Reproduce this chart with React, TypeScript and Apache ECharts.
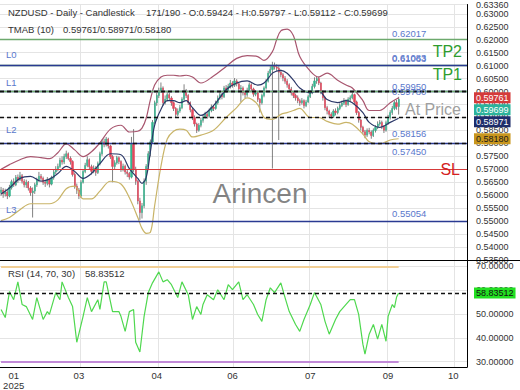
import React, { useEffect, useRef } from "react";
import * as echarts from "echarts";

const FONT = '"Liberation Sans", Arial, Helvetica, sans-serif';

// ---- header info
const symbolName = "NZDUSD";
const periodName = "Daily";
const chartKind = "Candlestick";
const barNo = 171;
const barCount = 190;

// ---- candles (daily)
const opens = [
  0.5610,0.5620,0.5605,0.5612,0.5597,0.5630,0.5652,0.5640,0.5669,0.5660,
  0.5675,0.5654,0.5640,0.5650,0.5628,0.5610,0.5616,0.5640,0.5660,0.5673,
  0.5665,0.5650,0.5646,0.5660,0.5643,0.5668,0.5690,0.5700,0.5711,0.5735,
  0.5728,0.5749,0.5760,0.5742,0.5730,0.5680,0.5635,0.5620,0.5597,0.5650,
  0.5692,0.5715,0.5737,0.5710,0.5692,0.5705,0.5688,0.5722,0.5760,0.5806,
  0.5795,0.5817,0.5790,0.5749,0.5711,0.5725,0.5745,0.5730,0.5700,0.5712,
  0.5690,0.5684,0.5670,0.5800,0.5700,0.5654,0.5578,0.5533,0.5559,0.5654,
  0.5711,0.5760,0.5806,0.5881,0.5957,0.5985,0.6003,0.6014,0.5957,0.5970,
  0.5988,0.5975,0.5957,0.5935,0.5912,0.5925,0.5938,0.5970,0.6003,0.5985,
  0.5957,0.5930,0.5900,0.5875,0.5851,0.5870,0.5889,0.5900,0.5912,0.5905,
  0.5927,0.5940,0.5935,0.5957,0.5975,0.5988,0.5980,0.6014,0.6005,0.6020,
  0.6033,0.6025,0.6041,0.6030,0.6010,0.6014,0.5995,0.5988,0.6005,0.6026,
  0.6010,0.5990,0.5995,0.5970,0.5957,0.5985,0.6014,0.6040,0.6071,0.6085,
  0.6101,0.6095,0.6090,0.6075,0.6065,0.6052,0.6040,0.6026,0.6010,0.5995,
  0.5985,0.5976,0.5965,0.5957,0.5965,0.5946,0.5960,0.5980,0.5995,0.6020,
  0.6041,0.6050,0.6033,0.6000,0.5976,0.5938,0.5925,0.5912,0.5905,0.5925,
  0.5919,0.5935,0.5946,0.5955,0.5965,0.5950,0.5970,0.5976,0.5988,0.5960,
  0.5919,0.5890,0.5862,0.5845,0.5832,0.5850,0.5844,0.5830,0.5850,0.5862,
  0.5875,0.5881,0.5865,0.5851,0.5880,0.5900,0.5919,0.5935,0.5957,0.59424,
];
const closes = [
  0.5620,0.5605,0.5612,0.5597,0.5630,0.5652,0.5640,0.5669,0.5660,0.5675,
  0.5654,0.5640,0.5650,0.5628,0.5610,0.5616,0.5640,0.5660,0.5673,0.5665,
  0.5650,0.5646,0.5660,0.5643,0.5668,0.5690,0.5700,0.5711,0.5735,0.5728,
  0.5749,0.5760,0.5742,0.5730,0.5680,0.5635,0.5620,0.5597,0.5650,0.5692,
  0.5715,0.5737,0.5710,0.5692,0.5705,0.5688,0.5722,0.5760,0.5806,0.5795,
  0.5817,0.5790,0.5749,0.5711,0.5725,0.5745,0.5730,0.5700,0.5712,0.5690,
  0.5684,0.5670,0.5800,0.5700,0.5654,0.5578,0.5533,0.5559,0.5654,0.5711,
  0.5760,0.5806,0.5881,0.5957,0.5985,0.6003,0.6014,0.5957,0.5970,0.5988,
  0.5975,0.5957,0.5935,0.5912,0.5925,0.5938,0.5970,0.6003,0.5985,0.5957,
  0.5930,0.5900,0.5875,0.5851,0.5870,0.5889,0.5900,0.5912,0.5905,0.5927,
  0.5940,0.5935,0.5957,0.5975,0.5988,0.5980,0.6014,0.6005,0.6020,0.6033,
  0.6025,0.6041,0.6030,0.6010,0.6014,0.5995,0.5988,0.6005,0.6026,0.6010,
  0.5990,0.5995,0.5970,0.5957,0.5985,0.6014,0.6040,0.6071,0.6085,0.6101,
  0.6095,0.6090,0.6075,0.6065,0.6052,0.6040,0.6026,0.6010,0.5995,0.5985,
  0.5976,0.5965,0.5957,0.5965,0.5946,0.5960,0.5980,0.5995,0.6020,0.6041,
  0.6050,0.6033,0.6000,0.5976,0.5938,0.5925,0.5912,0.5905,0.5925,0.5919,
  0.5935,0.5946,0.5955,0.5965,0.5950,0.5970,0.5976,0.5988,0.5960,0.5919,
  0.5890,0.5862,0.5845,0.5832,0.5850,0.5844,0.5830,0.5850,0.5862,0.5875,
  0.5881,0.5865,0.5851,0.5880,0.5900,0.5919,0.5935,0.5957,0.59424,0.59699,
];
const highs = [
  0.5632,0.5628,0.5625,0.5620,0.5640,0.5660,0.5665,0.5678,0.5680,0.5690,
  0.5682,0.5662,0.5660,0.5655,0.5635,0.5630,0.5648,0.5668,0.5690,0.5682,
  0.5672,0.5660,0.5670,0.5665,0.5675,0.5698,0.5712,0.5722,0.5745,0.5750,
  0.5760,0.5772,0.5765,0.5750,0.5735,0.5688,0.5645,0.5628,0.5658,0.5700,
  0.5725,0.5750,0.5742,0.5718,0.5715,0.5712,0.5730,0.5768,0.5815,0.5818,
  0.5825,0.5822,0.5795,0.5755,0.5735,0.5752,0.5750,0.5735,0.5722,0.5718,
  0.5700,0.5690,0.5825,0.5855,0.5710,0.5660,0.5590,0.5570,0.5665,0.5720,
  0.5770,0.5815,0.5890,0.5965,0.5995,0.6015,0.6035,0.6020,0.5985,0.6000,
  0.5995,0.5982,0.5962,0.5940,0.5935,0.5948,0.5978,0.6028,0.6010,0.5990,
  0.5962,0.5938,0.5908,0.5880,0.5878,0.5898,0.5910,0.5922,0.5920,0.5935,
  0.5950,0.5948,0.5965,0.5985,0.5998,0.5995,0.6022,0.6025,0.6030,0.6045,
  0.6040,0.6052,0.6048,0.6035,0.6025,0.6020,0.6002,0.6015,0.6035,0.6032,
  0.6015,0.6005,0.6000,0.5975,0.5992,0.6020,0.6048,0.6080,0.6098,0.6115,
  0.6112,0.6105,0.6098,0.6085,0.6072,0.6060,0.6048,0.6032,0.6018,0.6002,
  0.5992,0.5985,0.5972,0.5975,0.5970,0.5968,0.5988,0.6005,0.6030,0.6055,
  0.6060,0.6058,0.6038,0.6005,0.5980,0.5945,0.5930,0.5920,0.5932,0.5935,
  0.5942,0.5955,0.5965,0.5975,0.5970,0.5978,0.5985,0.5998,0.5992,0.5965,
  0.5925,0.5895,0.5868,0.5852,0.5858,0.5860,0.5850,0.5858,0.5870,0.5885,
  0.5890,0.5888,0.5870,0.5888,0.5910,0.5928,0.5945,0.5965,0.5968,0.59797,
];
const lows = [
  0.5598,0.5590,0.5595,0.5585,0.5592,0.5622,0.5632,0.5635,0.5648,0.5655,
  0.5645,0.5630,0.5628,0.5618,0.5598,0.5514,0.5605,0.5632,0.5652,0.5655,
  0.5640,0.5632,0.5638,0.5630,0.5638,0.5660,0.5682,0.5692,0.5705,0.5718,
  0.5720,0.5740,0.5735,0.5718,0.5672,0.5625,0.5605,0.5585,0.5590,0.5645,
  0.5685,0.5708,0.5700,0.5680,0.5685,0.5675,0.5682,0.5715,0.5752,0.5785,
  0.5788,0.5780,0.5740,0.5650,0.5700,0.5718,0.5720,0.5690,0.5692,0.5680,
  0.5670,0.5660,0.5665,0.5690,0.5640,0.5565,0.5505,0.5510,0.5550,0.5640,
  0.5700,0.5750,0.5800,0.5875,0.5945,0.5975,0.5995,0.5945,0.5950,0.5962,
  0.5965,0.5945,0.5925,0.5900,0.5905,0.5918,0.5932,0.5965,0.5975,0.5948,
  0.5920,0.5890,0.5865,0.5840,0.5845,0.5862,0.5880,0.5895,0.5895,0.5900,
  0.5920,0.5925,0.5930,0.5950,0.5968,0.5970,0.5975,0.5995,0.5998,0.6012,
  0.6015,0.6018,0.6020,0.6000,0.5960,0.5985,0.5975,0.5980,0.5998,0.6000,
  0.5980,0.5982,0.5960,0.5919,0.5950,0.5978,0.6008,0.6035,0.6062,0.5703,
  0.6085,0.6080,0.5813,0.6055,0.6040,0.6030,0.6015,0.5998,0.5985,0.5975,
  0.5965,0.5955,0.5945,0.5950,0.5935,0.5940,0.5955,0.5975,0.5990,0.6012,
  0.6030,0.6025,0.5990,0.5965,0.5928,0.5912,0.5900,0.5895,0.5898,0.5908,
  0.5912,0.5928,0.5940,0.5948,0.5940,0.5945,0.5962,0.5970,0.5952,0.5910,
  0.5880,0.5850,0.5835,0.5820,0.5825,0.5835,0.5818,0.5825,0.5842,0.5855,
  0.5868,0.5855,0.5840,0.5845,0.5872,0.5892,0.5910,0.5928,0.5930,0.59112,
];

// ---- TMAB (10) bands, read at these bar indices
const bandIdx = [0,4,9,14,19,23,27,31,35,39,43,47,52,57,61,65,67,69,71,73,76,79,82,85,88,91,95,101,107,112,117,122,125,129,131,133,136,139,142,147,151,155,160,164,167,172,175,180,185,189];
const upperBand = [0.5700,0.5718,0.5737,0.5749,0.5745,0.5741,0.5764,0.5798,0.5775,0.5749,0.5768,0.5802,0.5855,0.5870,0.5844,0.5847,0.5859,0.5897,0.5969,0.6025,0.6056,0.6063,0.6063,0.6060,0.6063,0.6056,0.6033,0.6060,0.6097,0.6128,0.6139,0.6135,0.6120,0.6154,0.6200,0.6234,0.6241,0.6215,0.6135,0.6079,0.6056,0.6071,0.6044,0.6025,0.6014,0.5965,0.5927,0.5927,0.5957,0.59761];
const middleBand = [0.5605,0.5628,0.5665,0.5673,0.5654,0.5662,0.5684,0.5711,0.5692,0.5665,0.5684,0.5722,0.5760,0.5756,0.5703,0.5665,0.5646,0.5669,0.5768,0.5870,0.5931,0.5965,0.5965,0.5957,0.5965,0.5938,0.5908,0.5946,0.6007,0.6033,0.6041,0.6025,0.6033,0.6071,0.6079,0.6082,0.6071,0.6044,0.6014,0.5995,0.6003,0.5969,0.5957,0.5965,0.5957,0.5919,0.5881,0.5862,0.5881,0.58971];
const lowerBand = [0.5502,0.5514,0.5544,0.5567,0.5567,0.5567,0.5582,0.5625,0.5635,0.5586,0.5586,0.5616,0.5654,0.5643,0.5590,0.5514,0.5472,0.5453,0.5457,0.5559,0.5711,0.5817,0.5847,0.5855,0.5851,0.5825,0.5832,0.5851,0.5900,0.5938,0.5976,0.5950,0.5900,0.5893,0.5900,0.5912,0.5919,0.5927,0.5935,0.5900,0.5900,0.5885,0.5874,0.5881,0.5874,0.5836,0.5806,0.5798,0.5813,0.58180];

// ---- RSI (14, 70, 30), read at these bar indices
const rsiIdx = [0,2,4,6,8,10,12,15,17,20,22,23,26,28,29,32,34,36,39,41,43,46,47,49,50,53,56,57,59,61,63,64,66,68,70,72,75,77,79,81,84,86,89,91,93,95,96,98,101,103,106,108,110,113,115,117,120,122,124,126,128,130,133,135,137,140,142,144,147,149,152,154,156,159,161,164,166,168,170,172,173,175,177,179,181,183,184,186,187,188,189];
const rsiVals = [51.9,48.5,59.4,56.0,63.5,54.0,53.1,47.7,56.9,47.7,51.0,49.8,59.0,56.0,63.5,56.9,53.1,38.1,49.0,56.9,51.0,56.0,51.9,63.5,63.5,51.0,51.0,49.0,42.7,51.0,51.9,38.1,34.0,49.0,59.0,63.1,67.7,63.5,64.4,62.3,56.9,63.5,58.1,47.7,53.1,49.8,54.0,58.1,56.0,60.2,56.0,62.3,60.2,63.5,56.0,58.1,54.0,49.8,46.9,56.0,61.0,59.0,63.1,56.9,51.0,45.6,42.7,47.7,54.0,59.0,54.0,46.9,41.5,47.7,51.0,54.0,56.0,56.0,49.8,37.3,33.1,41.5,45.6,39.4,45.6,38.5,49.0,54.0,52.7,57.0,58.83512];
const rsiUpper = 70;
const rsiLower = 30;

// ---- horizontal levels
const levelValues = [0.62017, 0.61083, 0.61063, 0.59950, 0.59780, 0.58156, 0.57450, 0.55054];
const levelTags = ["", "TP2", "L0", "L1", "TP1", "L2", "SL", "L3"];

// ---- x axis slots and month ticks
const slotCount = 222;
const tickIdx = [6, 37, 74, 110, 147, 184, 215];
const tickText = ["01\n2025", "03", "04", "06", "07", "09", "10"];
const gridLineIdx = [38, 75, 111, 147, 184, 216];

const priceMin = 0.535;
const priceMax = 0.6336;
const priceStep = 0.005;
const rsiMin = 27.7;
const rsiMax = 72.7;

export default function App() {
  const ref = useRef<HTMLDivElement>(null);

  useEffect(() => {
    const el = ref.current;
    if (!el) return;
    const chart = echarts.init(el, null, { renderer: "svg" });
    const last = closes.length - 1;
    const f5 = (v: number) => v.toFixed(5);
    const cats = Array.from({ length: slotCount }, (_, i) => String(i));

    const NAVY = "#2a3a92";
    const GREEN_LINE = "#6da96d";
    const RED = "#d63a3a";
    const BLUE_TXT = "#5a78cc";

    const xAxisBase = (gi: number) => ({
      type: "category",
      gridIndex: gi,
      data: cats,
      boundaryGap: true,
      axisTick: { show: false },
      axisLine: { show: gi === 1, lineStyle: { color: "#000", width: 1 } },
      axisLabel: {
        show: gi === 1,
        interval: (i: number) => tickIdx.includes(i),
        formatter: (_v: string, i: number) => {
          const p = tickIdx.indexOf(i);
          return p >= 0 ? tickText[p] : "";
        },
        fontSize: 9.5,
        color: "#333",
        margin: 3,
        lineHeight: 10,
        fontFamily: FONT,
      },
      splitLine: {
        show: true,
        interval: (i: number) => gridLineIdx.includes(i),
        lineStyle: { color: "#e4e4e4", width: 1 },
      },
    });

    const levelMarks: any[] = levelValues.map((v, k) => {
      const tag = levelTags[k];
      const isL = tag.startsWith("L");
      const isSL = tag === "SL";
      const color = isL ? NAVY : isSL ? RED : GREEN_LINE;
      return {
        yAxis: v,
        lineStyle: { color, width: isSL ? 1.2 : 1.4, type: "solid" },
        label: { show: false },
      };
    });

    const dashStyle = { color: "#111", width: 1.3, type: [4, 3] };
    const currentMarks = [
      upperBand[upperBand.length - 1],
      closes[last],
      middleBand[middleBand.length - 1],
      lowerBand[lowerBand.length - 1],
    ].map((v) => ({ yAxis: v, lineStyle: dashStyle, label: { show: false } }));

    const lineSeries = (data: number[], color: string) => ({
      type: "line",
      xAxisIndex: 0,
      yAxisIndex: 0,
      data: bandIdx.map((x, k) => [x, data[k]]),
      smooth: 0.35,
      symbol: "none",
      lineStyle: { color, width: 1.2 },
      z: 4,
    });

    const option: any = {
      animation: false,
      backgroundColor: "#ffffff",
      textStyle: { fontFamily: FONT },
      grid: [
        { left: 0, right: 53, top: 0, height: 260, containLabel: false },
        { left: 0, right: 53, top: 260, height: 108, containLabel: false },
      ],
      xAxis: [xAxisBase(0), xAxisBase(1)],
      yAxis: [
        {
          type: "value",
          gridIndex: 0,
          position: "right",
          min: priceMin,
          max: priceMax,
          interval: priceStep,
          axisLine: { show: true, lineStyle: { color: "#000", width: 1 } },
          axisTick: { show: false },
          axisLabel: {
            formatter: (v: number) => f5(v),
            fontSize: 9,
            color: "#333",
            margin: 9,
            fontFamily: FONT,
            alignMinLabel: "bottom",
            alignMaxLabel: "top",
          },
          splitLine: { show: true, lineStyle: { color: "#e4e4e4", width: 1 } },
        },
        {
          type: "value",
          gridIndex: 1,
          position: "right",
          min: rsiMin,
          max: rsiMax,
          splitNumber: 5,
          axisLine: { show: true, lineStyle: { color: "#000", width: 1 } },
          axisTick: { show: false },
          axisLabel: {
            formatter: (v: number) => f5(v),
            fontSize: 9,
            color: "#333",
            margin: 9,
            fontFamily: FONT,
            showMinLabel: false,
            showMaxLabel: false,
          },
          splitLine: { show: true, lineStyle: { color: "#e4e4e4", width: 1 } },
        },
      ],
      series: [
        {
          type: "custom",
          name: "wicks",
          xAxisIndex: 0,
          yAxisIndex: 0,
          data: lows.map((l, i) => [i, l, highs[i]]),
          encode: { x: 0, y: [1, 2] },
          renderItem: (_p: any, api: any) => {
            const lo = api.coord([api.value(0), api.value(1)]);
            const hi = api.coord([api.value(0), api.value(2)]);
            return {
              type: "line",
              shape: { x1: lo[0], y1: lo[1], x2: hi[0], y2: hi[1] },
              style: { stroke: "#4a4a4a", lineWidth: 0.7 },
            };
          },
          z: 2,
        },
        {
          type: "candlestick",
          name: "bodies",
          xAxisIndex: 0,
          yAxisIndex: 0,
          barWidth: "80%",
          data: opens.map((o, i) => [o, closes[i], Math.min(o, closes[i]), Math.max(o, closes[i])]),
          itemStyle: {
            color: "#36b58f",
            color0: "#e5475c",
            borderColor: "#36b58f",
            borderColor0: "#e5475c",
            borderWidth: 0.5,
          },
          z: 3,
        },
        {
          ...lineSeries(upperBand, "#a8566f"),
          markLine: { symbol: ["none", "none"], silent: true, animation: false, data: levelMarks },
        },
        {
          ...lineSeries(middleBand, "#2b3868"),
          markLine: { symbol: ["none", "none"], silent: true, animation: false, data: currentMarks },
        },
        lineSeries(lowerBand, "#c9b468"),
        {
          type: "line",
          name: "RSI",
          xAxisIndex: 1,
          yAxisIndex: 1,
          data: rsiIdx.map((x, k) => [x, rsiVals[k]]),
          symbol: "none",
          lineStyle: { color: "#4fd84f", width: 1.2 },
          z: 4,
          markLine: {
            symbol: ["none", "none"],
            silent: true,
            animation: false,
            label: { show: false },
            data: [
              [
                { coord: [cats[0], rsiUpper], lineStyle: { color: "#f2cf95", width: 2, type: "solid" } },
                { coord: [cats[last], rsiUpper] },
              ],
              [
                { coord: [cats[0], rsiLower], lineStyle: { color: "#c28ad8", width: 2, type: "solid" } },
                { coord: [cats[last], rsiLower] },
              ],
              { yAxis: rsiVals[rsiVals.length - 1], lineStyle: dashStyle },
            ],
          },
        },
      ],
    };

    chart.setOption(option);

    const txt = (text: string, x: number, y: number, size: number, fill: string, extra: any = {}) => ({
      type: "text",
      x,
      y,
      z: 50,
      style: { text, fill, font: `${size}px ${FONT}`, verticalAlign: "middle", align: "left", ...extra },
    });
    const py = (v: number) => chart.convertToPixel({ yAxisIndex: 0 } as any, v) as unknown as number;

    const tagDefs = [
      { v: upperBand[upperBand.length - 1], bg: "#d43b3b", fg: "#ffffff" },
      { v: closes[last], bg: "#2bb39b", fg: "#ffffff" },
      { v: middleBand[middleBand.length - 1], bg: "#1e2d6b", fg: "#ffffff" },
      { v: lowerBand[lowerBand.length - 1], bg: "#c8961d", fg: "#1a1a1a" },
    ];
    const placed = tagDefs.map((t) => ({ ...t, y: py(t.v) })).sort((a, b) => a.y - b.y);
    for (let k = 1; k < placed.length; k++) {
      if (placed[k].y < placed[k - 1].y + 12) placed[k].y = placed[k - 1].y + 12;
    }
    const rsiLast = rsiVals[rsiVals.length - 1];
    const rsiY = chart.convertToPixel({ yAxisIndex: 1 } as any, rsiLast) as unknown as number;
    const closeY = py(closes[last]);

    const tagEls: any[] = placed.map((t) =>
      txt(f5(t.v), 474, t.y, 9, t.fg, { backgroundColor: t.bg, padding: [1, 2, 1, 2] })
    );
    tagEls.push(
      txt(f5(rsiLast), 474, rsiY, 9, "#111", { backgroundColor: "#22e022", padding: [1, 2, 1, 2] })
    );

    // level value labels + names (L0..L3 at left, TP/SL at right)
    const bigOffset: Record<string, number> = { TP2: -12, TP1: -23, SL: 12 };
    const nameEls: any[] = [];
    levelValues.forEach((v, k) => {
      const tag = levelTags[k];
      const y = py(v);
      nameEls.push(txt(f5(v), 392, y - 6, 9.5, BLUE_TXT));
      if (!tag) return;
      if (tag.startsWith("L")) {
        nameEls.push(txt(tag, 6, y - 10, 9.5, BLUE_TXT));
      } else {
        const isSL = tag === "SL";
        nameEls.push(
          txt(tag, isSL ? 460 : 462, y + bigOffset[tag], 16, isSL ? "#d42020" : "#2e9c2e", { align: "right" })
        );
      }
    });

    chart.setOption({
      graphic: [
        {
          type: "line",
          z: 40,
          shape: { x1: 0, y1: 260.5, x2: 520, y2: 260.5 },
          style: { stroke: "#000", lineWidth: 1 },
        },
        txt(`${symbolName} - ${periodName} - ${chartKind}`, 8, 12.5, 9.5, "#333"),
        txt(
          `${barNo}/${barCount} - O:${f5(opens[last])} - H:${f5(highs[last])} - L:${f5(lows[last])} - C:${f5(closes[last])}`,
          146, 12.5, 9.5, "#333"
        ),
        txt("TMAB (10)", 8, 29, 9.5, "#333"),
        txt(
          `${f5(upperBand[upperBand.length - 1])}/${f5(middleBand[middleBand.length - 1])}/${f5(lowerBand[lowerBand.length - 1])}`,
          63, 29, 9.5, "#333"
        ),
        txt("RSI (14, 70, 30)", 8, 273, 9.5, "#333"),
        txt(f5(rsiLast), 85, 273, 9.5, "#333"),
        txt("Arincen", 260, 193, 28, "rgba(110,110,110,0.85)", { align: "center" }),
        txt("At Price", 405, closeY + 10, 16, "#a0a0a0"),
        ...nameEls,
        ...tagEls,
      ],
    });

    return () => chart.dispose();
  }, []);

  return (
    <div
      ref={ref}
      style={{ position: "absolute", left: 0, top: 0, width: 520, height: 390, background: "#fff" }}
    />
  );
}
